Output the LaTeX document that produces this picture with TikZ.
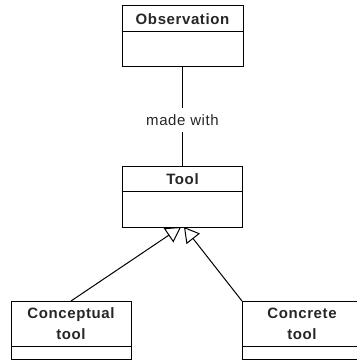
\documentclass[tikz,border=0pt]{standalone}
\usepackage{fontspec}
\newfontfamily\umlfont{Liberation Sans}[LetterSpace=4]
\usetikzlibrary{positioning,arrows.meta}

\tikzset{
  classhead/.style={draw, line width=1pt, outer sep=0pt, minimum width=120pt, inner sep=0pt,
    align=center, text=black!85, font=\umlfont\bfseries\fontsize{15}{21}\selectfont},
  classbody/.style={draw, line width=1pt, outer sep=0pt, minimum width=120pt, inner sep=0pt},
  genarrow/.style={line width=1pt, -{Triangle[open, length=15pt, width=17pt]}},
}

\begin{document}
\begin{tikzpicture}[x=1pt,y=-1pt]
	\useasboundingbox (0,0) rectangle (356,363);
	% Observation
	\node[classhead, minimum width=121pt, minimum height=26pt] (obsHead) at (182.5,19) {Observation};
	\node[classbody, minimum width=121pt, minimum height=35pt, below=0pt of obsHead] (obsBody) {};
	% Tool
	\node[classhead, minimum height=24pt] (toolHead) at (182.5,179) {Tool};
	\node[classbody, minimum height=36pt, below=0pt of toolHead] (toolBody) {};
	% Conceptual tool
	\node[classhead, minimum height=45pt] (conceptHead) at (71,323.5) {Conceptual\\tool};
	\node[classbody, minimum height=13pt, below=0pt of conceptHead] (conceptBody) {};
	% Concrete tool
	\node[classhead, minimum height=45pt] (concreteHead) at (302,323.5) {Concrete\\tool};
	\node[classbody, minimum height=13pt, below=0pt of concreteHead] (concreteBody) {};
	% association
	\node[font=\umlfont\fontsize{15}{18}\selectfont, text=black!85, inner sep=6pt] (madeWith) at (182.5,120) {made with};
	\draw[line width=1pt] (obsBody) -- (madeWith) -- (toolHead);
	% generalisations
	\draw[genarrow] (conceptHead.north) -- ([xshift=-1.5pt]toolBody.south);
	\draw[genarrow] (concreteHead.north west) -- ([xshift=1.5pt]toolBody.south);
\end{tikzpicture}
\end{document}
